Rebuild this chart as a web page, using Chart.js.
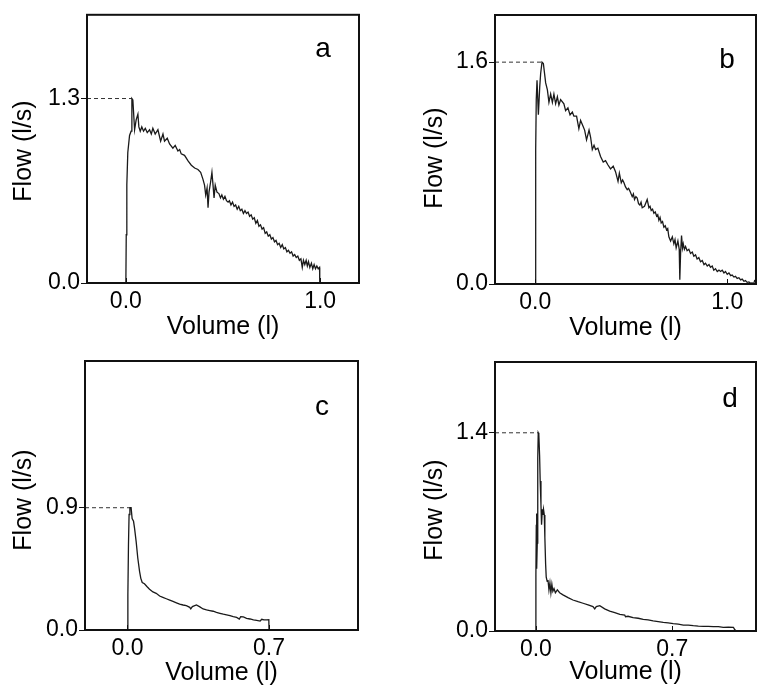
<!DOCTYPE html>
<html>
<head>
<meta charset="utf-8">
<script src="https://cdn.jsdelivr.net/npm/chart.js@4.4.1/dist/chart.umd.min.js"></script>
<style>
  body { margin:0; background:#fff; width:757px; height:688px; position:relative; overflow:hidden; }
  canvas { position:absolute; }
</style>
</head>
<body>
<canvas id="pa" width="378" height="344" style="left:0;top:0"></canvas>
<canvas id="pb" width="379" height="344" style="left:378px;top:0"></canvas>
<canvas id="pc" width="378" height="344" style="left:0;top:344px"></canvas>
<canvas id="pd" width="379" height="344" style="left:378px;top:344px"></canvas>
<script>
// flow-volume curves, [volume (l), flow (l/s)]
const curveA = [[0,0],[0.002,0.34],[0.005,0.69],[0.010,0.92],[0.019,1.04],[0.027,1.07],[0.031,1.30],[0.036,1.29],
  [0.045,1.08],[0.053,1.15],[0.062,1.19],[0.067,1.10],[0.074,1.07],[0.082,1.10],[0.091,1.07],[0.100,1.09],
  [0.110,1.06],[0.122,1.08],[0.131,1.05],[0.139,1.09],[0.151,1.05],[0.165,1.08],[0.179,1.00],[0.191,1.05],
  [0.199,1.00],[0.213,1.02],[0.225,0.98],[0.242,0.95],[0.254,0.97],[0.268,0.93],[0.277,0.94],[0.285,0.91],
  [0.302,0.90],[0.320,0.86],[0.337,0.83],[0.354,0.81],[0.371,0.80],[0.385,0.78],[0.397,0.73],[0.405,0.69],
  [0.411,0.62],[0.418,0.67],[0.423,0.53],[0.428,0.64],[0.436,0.71],[0.443,0.78],[0.448,0.70],[0.454,0.60],
  [0.460,0.69],[0.469,0.64],[0.479,0.63],[0.487,0.60],[0.494,0.62],[0.502,0.59],[0.510,0.61],[0.518,0.58],
  [0.526,0.57],[0.533,0.58],[0.541,0.55],[0.549,0.57],[0.557,0.54],[0.565,0.55],[0.573,0.52],[0.581,0.54],
  [0.589,0.51],[0.597,0.52],[0.605,0.49],[0.613,0.51],[0.621,0.49],[0.629,0.50],[0.637,0.47],[0.645,0.48],
  [0.653,0.45],[0.661,0.46],[0.669,0.42],[0.677,0.44],[0.685,0.40],[0.693,0.41],[0.701,0.38],[0.709,0.39],
  [0.717,0.35],[0.725,0.36],[0.733,0.33],[0.741,0.34],[0.749,0.31],[0.757,0.32],[0.765,0.29],[0.773,0.30],
  [0.781,0.27],[0.789,0.28],[0.797,0.25],[0.805,0.27],[0.813,0.24],[0.821,0.25],[0.829,0.22],[0.837,0.23],
  [0.845,0.21],[0.853,0.22],[0.861,0.19],[0.869,0.20],[0.877,0.18],[0.885,0.19],[0.893,0.16],[0.901,0.17],
  [0.908,0.11],[0.914,0.16],[0.921,0.13],[0.928,0.16],[0.934,0.12],[0.940,0.15],[0.947,0.11],[0.955,0.14],
  [0.962,0.10],[0.969,0.13],[0.976,0.10],[0.983,0.12],[0.990,0.10],[0.997,0.11],[0.998,0]];

const curveB = [[0,0],[0.002,0.97],[0.005,1.33],[0.009,1.47],[0.016,1.22],[0.023,1.42],[0.028,1.52],[0.035,1.60],
  [0.042,1.59],[0.054,1.45],[0.063,1.40],[0.071,1.31],[0.080,1.37],[0.089,1.31],[0.097,1.37],[0.106,1.30],
  [0.115,1.35],[0.123,1.29],[0.132,1.33],[0.149,1.30],[0.158,1.25],[0.170,1.27],[0.181,1.22],[0.193,1.24],
  [0.201,1.21],[0.215,1.21],[0.227,1.12],[0.236,1.18],[0.245,1.15],[0.257,1.11],[0.267,1.04],[0.280,1.11],
  [0.288,1.06],[0.297,0.97],[0.306,1.00],[0.314,0.97],[0.326,0.98],[0.340,0.92],[0.354,0.88],[0.366,0.89],
  [0.378,0.86],[0.392,0.83],[0.406,0.85],[0.418,0.81],[0.431,0.74],[0.438,0.80],[0.448,0.73],[0.455,0.75],
  [0.462,0.73],[0.470,0.70],[0.479,0.68],[0.486,0.69],[0.493,0.67],[0.505,0.63],[0.511,0.65],[0.517,0.61],
  [0.524,0.63],[0.531,0.62],[0.538,0.58],[0.545,0.57],[0.551,0.59],[0.557,0.55],[0.569,0.56],[0.583,0.61],
  [0.592,0.55],[0.598,0.56],[0.604,0.53],[0.611,0.54],[0.618,0.51],[0.625,0.52],[0.632,0.49],[0.638,0.50],
  [0.644,0.46],[0.650,0.48],[0.656,0.44],[0.663,0.45],[0.670,0.41],[0.677,0.42],[0.684,0.39],[0.690,0.40],
  [0.696,0.34],[0.705,0.31],[0.714,0.34],[0.722,0.29],[0.728,0.32],[0.734,0.26],[0.743,0.31],[0.750,0.25],
  [0.753,0.03],[0.757,0.22],[0.762,0.35],[0.767,0.26],[0.771,0.29],[0.777,0.25],[0.783,0.27],[0.791,0.24],
  [0.800,0.25],[0.809,0.22],[0.818,0.23],[0.826,0.20],[0.835,0.21],[0.843,0.18],[0.852,0.19],[0.861,0.16],
  [0.870,0.17],[0.879,0.14],[0.887,0.15],[0.896,0.13],[0.905,0.14],[0.913,0.12],[0.922,0.13],[0.930,0.10],
  [0.939,0.11],[0.948,0.09],[0.957,0.10],[0.965,0.09],[0.974,0.10],[0.983,0.08],[0.991,0.09],[1.000,0.07],
  [1.009,0.08],[1.018,0.06],[1.026,0.065],[1.035,0.05],[1.043,0.055],[1.052,0.04],[1.061,0.045],[1.070,0.03],
  [1.078,0.035],[1.087,0.02],[1.095,0.025],[1.104,0.012],[1.113,0.015],[1.122,0.006],[1.130,0.008],[1.138,0.003],
  [1.144,0.03]];

const curveC = [[0,0],[0.002,0.26],[0.005,0.63],[0.008,0.85],[0.012,0.90],[0.018,0.90],[0.023,0.82],[0.030,0.80],
  [0.035,0.75],[0.043,0.65],[0.051,0.53],[0.060,0.43],[0.066,0.38],[0.073,0.35],[0.084,0.34],[0.096,0.32],
  [0.109,0.30],[0.126,0.28],[0.142,0.27],[0.159,0.25],[0.175,0.24],[0.192,0.23],[0.209,0.22],[0.225,0.21],
  [0.242,0.20],[0.258,0.19],[0.275,0.184],[0.291,0.179],[0.308,0.167],[0.313,0.155],[0.321,0.172],[0.341,0.184],
  [0.358,0.170],[0.374,0.155],[0.391,0.148],[0.407,0.143],[0.424,0.138],[0.440,0.130],[0.457,0.123],[0.474,0.116],
  [0.490,0.111],[0.507,0.106],[0.523,0.098],[0.540,0.093],[0.553,0.081],[0.560,0.098],[0.573,0.096],[0.589,0.086],
  [0.606,0.081],[0.623,0.074],[0.639,0.071],[0.656,0.066],[0.664,0.079],[0.675,0.074],[0.689,0.074],[0.699,0.076],
  [0.700,0]];

const curveD = [[0,0],[0,0.40],[0.002,0.75],[0.003,0.83],[0.005,0.44],[0.007,0.62],[0.009,0.98],[0.010,1.22],
  [0.012,1.40],[0.015,1.39],[0.019,1.24],[0.022,1.06],[0.026,0.89],[0.029,0.75],[0.033,0.86],[0.036,0.82],
  [0.039,0.86],[0.043,0.82],[0.046,0.66],[0.050,0.47],[0.053,0.38],[0.058,0.35],[0.062,0.36],[0.067,0.29],
  [0.072,0.34],[0.077,0.27],[0.082,0.33],[0.087,0.28],[0.093,0.30],[0.100,0.27],[0.110,0.29],[0.122,0.27],
  [0.139,0.255],[0.165,0.236],[0.190,0.219],[0.216,0.207],[0.242,0.196],[0.268,0.184],[0.293,0.172],[0.302,0.156],
  [0.310,0.172],[0.328,0.179],[0.353,0.156],[0.379,0.141],[0.405,0.130],[0.431,0.118],[0.456,0.113],[0.460,0.101],
  [0.473,0.104],[0.499,0.094],[0.525,0.090],[0.551,0.082],[0.576,0.078],[0.602,0.071],[0.628,0.066],[0.654,0.061],
  [0.679,0.057],[0.705,0.052],[0.731,0.049],[0.757,0.042],[0.782,0.042],[0.808,0.038],[0.834,0.035],[0.860,0.033],
  [0.885,0.033],[0.911,0.031],[0.937,0.031],[0.962,0.026],[0.988,0.028],[1.014,0.026],[1.019,0.014],[1.022,0]];

// tick labels shown on each panel
const xTicksA = [0, 1.0], yTicksA = [0, 1.3];
const xTicksB = [0, 1.0], yTicksB = [0, 1.6];
const xTicksC = [0, 0.7], yTicksC = [0, 0.9];
const xTicksD = [0, 0.7], yTicksD = [0, 1.4];

const FONT = '"Liberation Sans", Arial, Helvetica, sans-serif';

// box, inner x tick marks, y title and panel letter
const framePlugin = {
  id: 'frame',
  afterDraw(chart, args, o) {
    const { ctx, chartArea: a, scales: { x } } = chart;
    ctx.save();
    ctx.strokeStyle = '#111';
    ctx.lineWidth = 1;
    x.ticks.forEach(t => {
      const px = Math.round(x.getPixelForValue(t.value)) + 0.5;
      ctx.beginPath(); ctx.moveTo(px, a.bottom); ctx.lineTo(px, a.bottom - 5); ctx.stroke();
    });
    ctx.lineWidth = 2;
    ctx.strokeRect(a.left, a.top, a.right - a.left, a.bottom - a.top);
    ctx.fillStyle = '#000';
    ctx.font = '28px ' + FONT;
    ctx.textAlign = 'center';
    ctx.textBaseline = 'alphabetic';
    ctx.fillText(o.letter, o.lx, o.ly);
    ctx.translate(o.tx, o.ty);
    ctx.rotate(-Math.PI / 2);
    ctx.font = '25px ' + FONT;
    ctx.textBaseline = 'middle';
    ctx.fillText('Flow (l/s)', 0, 0);
    ctx.restore();
  }
};

function panel(id, curve, xTicks, yTicks, cfg) {
  const pts = curve.map(p => ({ x: p[0], y: p[1] }));
  const peak = pts.reduce((m, p) => p.y > m.y ? p : m, pts[0]);
  new Chart(document.getElementById(id), {
    type: 'scatter',
    data: {
      datasets: [
        { data: pts, showLine: true, borderColor: '#1a1a1a', borderWidth: 1.3, pointRadius: 0 },
        { data: [{ x: cfg.xMin, y: peak.y }, { x: peak.x, y: peak.y }], showLine: true,
          borderColor: '#333', borderWidth: 1, borderDash: [4, 3], pointRadius: 0 }
      ]
    },
    options: {
      responsive: false, animation: false, devicePixelRatio: 1,
      layout: { padding: { left: 0, top: cfg.top, right: cfg.right, bottom: 0 } },
      plugins: { legend: { display: false }, tooltip: { enabled: false },
        frame: { letter: cfg.letter, lx: cfg.lx, ly: cfg.ly, tx: cfg.tx, ty: cfg.ty } },
      scales: {
        x: {
          type: 'linear', min: cfg.xMin, max: cfg.xMax,
          afterFit: s => { s.height = cfg.xH; },
          afterBuildTicks: s => { s.ticks = xTicks.map(v => ({ value: v })); },
          ticks: { callback: v => v.toFixed(1), color: '#000', padding: 5, maxRotation: 0, autoSkip: false,
                   font: { family: FONT, size: 23 } },
          grid: { display: false, drawTicks: false },
          border: { display: false },
          title: { display: true, text: 'Volume (l)', color: '#000', font: { family: FONT, size: 25 },
                   padding: { top: 0, bottom: cfg.xtPad } }
        },
        y: {
          type: 'linear', min: 0, max: cfg.yMax,
          afterFit: s => { s.width = cfg.yW; },
          afterBuildTicks: s => { s.ticks = yTicks.map(v => ({ value: v })); },
          ticks: { callback: v => v.toFixed(1), color: '#000', padding: 1, autoSkip: false,
                   font: { family: FONT, size: 23 } },
          grid: { drawOnChartArea: false, drawTicks: true, tickLength: 6, color: '#111', lineWidth: 1 },
          border: { display: false }
        }
      }
    },
    plugins: [framePlugin]
  });
}

panel('pa', curveA, xTicksA, yTicksA, { xMin: -0.2, xMax: 1.2, yMax: 1.89, yW: 87, xH: 61, top: 13, right: 19,
  xtPad: 2, letter: 'a', lx: 323, ly: 57, tx: 24, ty: 151 });
panel('pb', curveB, xTicksB, yTicksB, { xMin: -0.21, xMax: 1.15, yMax: 1.94, yW: 117, xH: 60, top: 15, right: 1,
  xtPad: 1, letter: 'b', lx: 349, ly: 68, tx: 57, ty: 158 });
panel('pc', curveC, xTicksC, yTicksC, { xMin: -0.21, xMax: 1.14, yMax: 1.98, yW: 85, xH: 58, top: 17, right: 20,
  xtPad: 0, letter: 'c', lx: 322, ly: 71, tx: 24, ty: 156 });
panel('pd', curveD, xTicksD, yTicksD, { xMin: -0.21, xMax: 1.13, yMax: 1.9, yW: 117, xH: 57, top: 18, right: 1,
  xtPad: 1, letter: 'd', lx: 352, ly: 63, tx: 57, ty: 166 });
</script>
</body>
</html>
